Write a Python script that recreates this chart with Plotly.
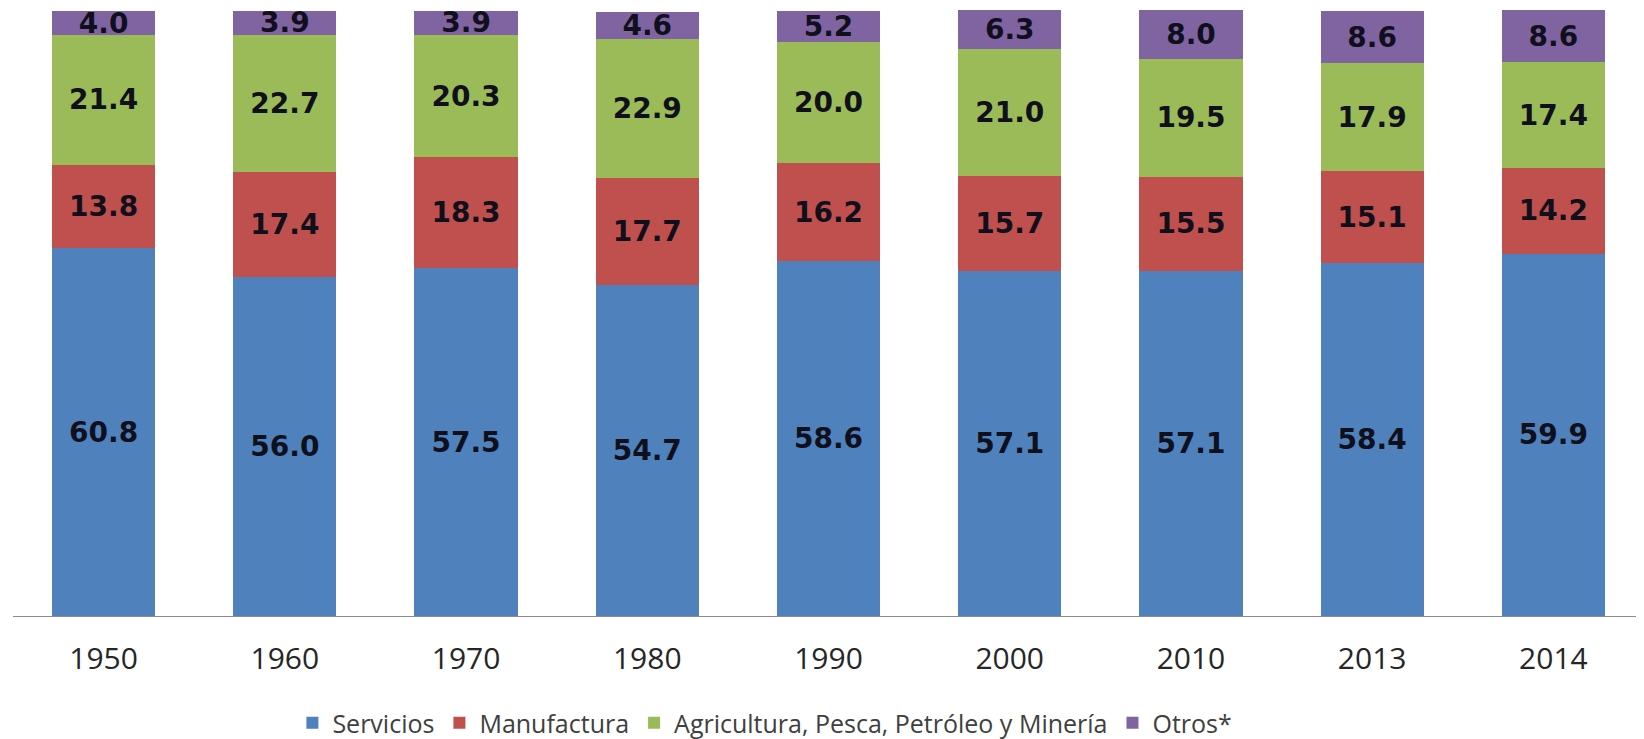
import plotly.graph_objects as go

years = ["1950", "1960", "1970", "1980", "1990", "2000", "2010", "2013", "2014"]
servicios = [60.8, 56.0, 57.5, 54.7, 58.6, 57.1, 57.1, 58.4, 59.9]
manufactura = [13.8, 17.4, 18.3, 17.7, 16.2, 15.7, 15.5, 15.1, 14.2]
agricultura = [21.4, 22.7, 20.3, 22.9, 20.0, 21.0, 19.5, 17.9, 17.4]
otros = [4.0, 3.9, 3.9, 4.6, 5.2, 6.3, 8.0, 8.6, 8.6]

series = [
    ("Servicios", servicios, "#4F81BD"),
    ("Manufactura", manufactura, "#C0504D"),
    ("Agricultura, Pesca, Petróleo y Minería", agricultura, "#9BBB59"),
    ("Otros*", otros, "#8064A2"),
]

fig = go.Figure()
for name, vals, color in series:
    fig.add_trace(go.Bar(
        x=years, y=vals, name=name,
        marker=dict(color=color, line=dict(width=0)),
        text=[f"{v:.1f}" for v in vals],
        textposition="inside",
        insidetextanchor="middle",
        constraintext="none",
        textangle=0,
        textfont=dict(family="DejaVu Sans", size=28, color="#10101c", weight="bold"),
    ))

# page body has an 8px default margin, so the figure is sized/offset to compensate
fig.update_layout(
    barmode="stack",
    bargap=0.43,
    width=1636, height=731,
    margin=dict(l=5, r=0, t=0, b=123, autoexpand=False),
    paper_bgcolor="white", plot_bgcolor="white",
    showlegend=True,
    legend=dict(
        orientation="h", x=0.461, xanchor="center", y=-0.176, yanchor="middle",
        font=dict(family="Open Sans", size=25, color="#404040"),
        traceorder="normal",
    ),
    xaxis=dict(
        showline=True, linecolor="#8c8c8c", linewidth=1,
        showgrid=False, ticks="",
        tickfont=dict(family="Open Sans", size=30, color="#262626"),
        ticklabelstandoff=16,
    ),
    yaxis=dict(range=[0, 100.5], visible=False, showgrid=False),
)

fig.write_html("out.html")
